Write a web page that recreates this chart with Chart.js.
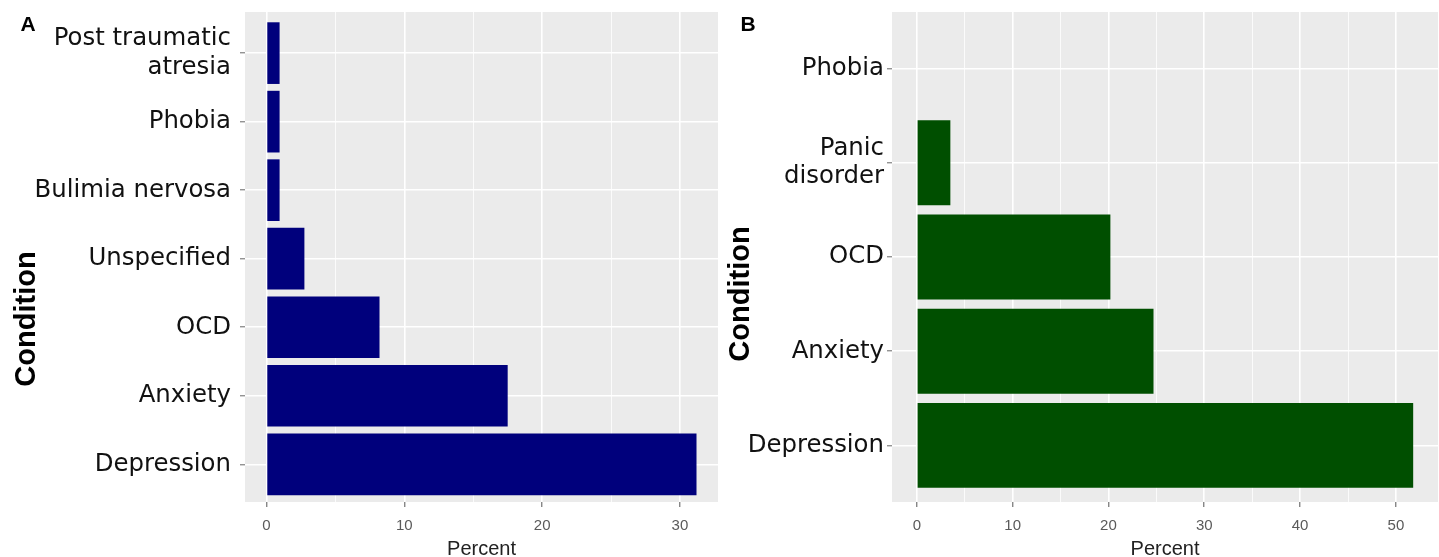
<!DOCTYPE html>
<html>
<head>
<meta charset="utf-8">
<script src="https://cdn.jsdelivr.net/npm/chart.js@4.4.1/dist/chart.umd.min.js"></script>
<style>
  html, body { margin: 0; padding: 0; background: #fff; }
  body { width: 1439px; height: 557px; position: relative; overflow: hidden; }
  .panel { position: absolute; top: 0; height: 557px; }
  #panel-a { left: 0; width: 722px; }
  #panel-b { left: 722px; width: 717px; }
</style>
</head>
<body>
<div class="panel" id="panel-a"><canvas id="chart-a"></canvas></div>
<div class="panel" id="panel-b"><canvas id="chart-b"></canvas></div>
<script>
// panel A
const conditionsA = [['Post traumatic', 'atresia'], 'Phobia', 'Bulimia nervosa', 'Unspecified', 'OCD', 'Anxiety', 'Depression'];
const percentA = [0.95, 0.95, 0.95, 2.75, 8.2, 17.5, 31.2];
const ticksA = [0, 5, 10, 15, 20, 25, 30];

// panel B
const conditionsB = ['Phobia', ['Panic', 'disorder'], 'OCD', 'Anxiety', 'Depression'];
const percentB = [0, 3.5, 20.2, 24.7, 51.8];
const ticksB = [0, 5, 10, 15, 20, 25, 30, 35, 40, 45, 50];

const panelBg = {
  id: 'panelBg',
  beforeDraw(chart) {
    const {ctx, chartArea: a} = chart;
    ctx.save();
    ctx.fillStyle = '#ebebeb';
    ctx.fillRect(a.left, a.top, a.right - a.left, a.bottom - a.top);
    ctx.restore();
  }
};

// panel letter and rotated "Condition" title
const labels = {
  id: 'labels',
  afterDraw(chart, args, opts) {
    const ctx = chart.ctx;
    ctx.save();
    ctx.fillStyle = '#000';
    ctx.textAlign = 'center';
    ctx.textBaseline = 'middle';
    ctx.font = 'bold 21px "Liberation Sans", Arial, sans-serif';
    ctx.fillText(opts.letter, opts.letterX, 25);
    ctx.translate(opts.titleX, opts.titleY);
    ctx.rotate(-Math.PI / 2);
    ctx.font = 'bold 29px "Liberation Sans", Arial, sans-serif';
    ctx.fillText('Condition', 0, 0);
    ctx.restore();
  }
};

const isMajor = v => v % 10 === 0;

const makeChart = (id, cats, vals, tickVals, color, cfg) => {
  const max = Math.max(...vals);
  return new Chart(document.getElementById(id), {
    type: 'bar',
    data: {
      datasets: [{
        data: vals.map((v, i) => ({ x: v, y: i })),
        backgroundColor: color,
        borderWidth: 0,
        categoryPercentage: 1,
        barPercentage: 0.9,
      }],
    },
    options: {
      indexAxis: 'y',
      responsive: true,
      maintainAspectRatio: false,
      animation: false,
      layout: { padding: { left: 0, top: 12, right: cfg.padRight, bottom: 0 } },
      plugins: {
        legend: { display: false },
        tooltip: { enabled: false },
        labels: cfg.labels,
      },
      scales: {
        x: {
          type: 'linear',
          min: -max * 0.05,
          max: max * 1.05,
          afterBuildTicks: scale => { scale.ticks = tickVals.map(v => ({ value: v })); },
          afterFit: scale => { scale.height = 55; scale.paddingLeft = 0; scale.paddingRight = 0; },
          border: { display: false },
          grid: {
            color: '#ffffff',
            lineWidth: c => isMajor(c.tick.value) ? 1.6 : 0.8,
            tickLength: 5,
            tickColor: c => isMajor(c.tick.value) ? '#555' : 'transparent',
            tickWidth: 1,
          },
          ticks: {
            callback: v => isMajor(v) ? v : '',
            color: '#5a5a5a',
            font: { family: '"Liberation Sans", Arial, sans-serif', size: 15 },
            padding: 10,
            maxRotation: 0,
            autoSkip: false,
          },
          title: {
            display: true,
            text: 'Percent',
            color: '#222',
            font: { family: '"Liberation Sans", Arial, sans-serif', size: 20, lineHeight: 1.0 },
            padding: { top: 0, bottom: -2 },
          },
        },
        y: {
          type: 'linear',
          reverse: true,
          offset: false,
          min: -0.6,
          max: cats.length - 1 + cfg.yExpand,
          afterBuildTicks: scale => { scale.ticks = cats.map((c, i) => ({ value: i })); },
          afterFit: scale => { scale.width = cfg.yWidth; scale.paddingTop = 0; scale.paddingBottom = 0; },
          border: { display: false },
          grid: {
            offset: false,
            color: '#ffffff',
            lineWidth: 1.6,
            tickLength: cfg.tickLen,
            tickColor: '#666',
            tickWidth: 1,
          },
          ticks: {
            callback: v => cats[v],
            color: '#111',
            font: { family: '"DejaVu Sans", sans-serif', size: 24.4, lineHeight: 1.17 },
            padding: cfg.tickPad,
            autoSkip: false,
          },
        },
      },
    },
    plugins: [panelBg, labels],
  });
};

makeChart('chart-a', conditionsA, percentA, ticksA, '#00007c', {
  padRight: 4, yWidth: 245, tickLen: 5, tickPad: 9, yExpand: 0.55,
  labels: { letter: 'A', letterX: 28, titleX: 27, titleY: 319 },
});

makeChart('chart-b', conditionsB, percentB, ticksB, '#004f00', {
  padRight: 1, yWidth: 170, tickLen: 5, tickPad: 3, yExpand: 0.6,
  labels: { letter: 'B', letterX: 26, titleX: 19, titleY: 294 },
});
</script>
</body>
</html>
